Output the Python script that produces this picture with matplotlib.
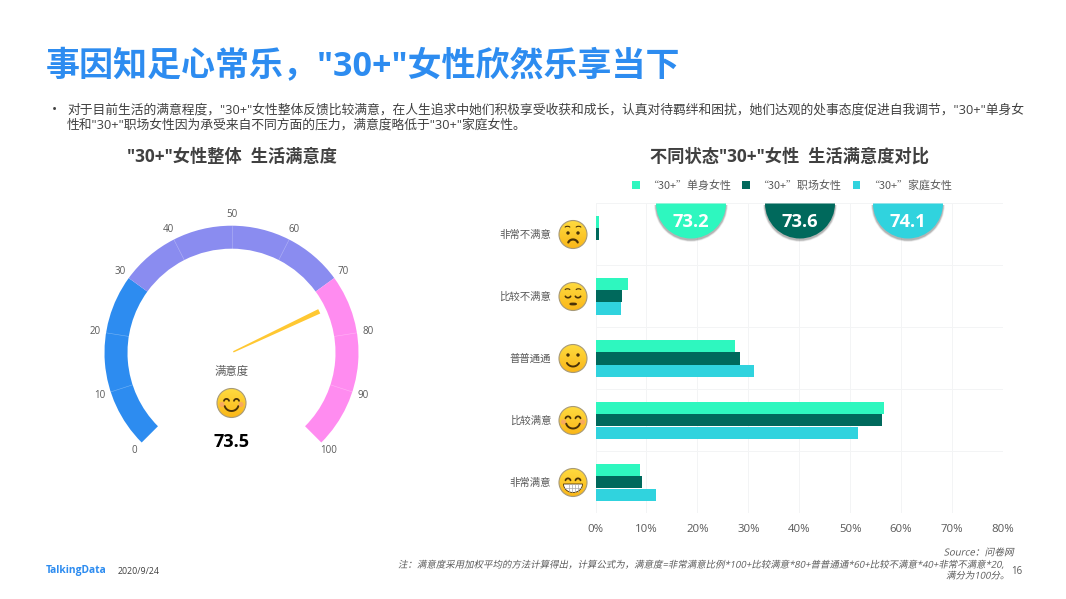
import numpy as np
import matplotlib
matplotlib.use('Agg')
import matplotlib.pyplot as plt
from matplotlib.patches import Wedge, Circle, Polygon
from matplotlib.patheffects import AbstractPathEffect
from matplotlib.transforms import Affine2D

plt.rcParams['font.family'] = ['Open Sans', 'Noto Sans CJK SC', 'DejaVu Sans']

# Gauge data
gauge_ticks = [0, 10, 20, 30, 40, 50, 60, 70, 80, 90, 100]
gauge_stops = [30, 70, 100]
gauge_colors = ['#2D8CF0', '#8A8CF0', '#FF8CF0']
gauge_value = 73.5

# Bar data
levels = ['非常不满意', '比较不满意', '普普通通', '比较满意', '非常满意']
single = [0.7, 6.4, 27.4, 56.6, 8.7]
career = [0.6, 5.3, 28.4, 56.3, 9.1]
family = [0.1, 5.0, 31.1, 51.6, 11.9]
series_names = ['“30+”单身女性', '“30+”职场女性', '“30+”家庭女性']
series_colors = ['#2EF7BF', '#00695C', '#30D3DE']
scores = [73.2, 73.6, 74.1]
xticks = [0, 10, 20, 30, 40, 50, 60, 70, 80]

W, H = 1066, 599
TEXT = '#595959'
CJK = ['Noto Sans CJK SC', 'DejaVu Sans']

fig = plt.figure(figsize=(W / 100, H / 100), dpi=100)


class Slant(AbstractPathEffect):
    # fake italic, the CJK fonts have no oblique face
    def draw_path(self, renderer, gc, tpath, affine, rgbFace=None):
        renderer.draw_path(gc, tpath, Affine2D().skew_deg(12, 0) + affine, rgbFace)


def px_axes(x0, y0, x1, y1):
    return fig.add_axes([x0 / W, 1 - y1 / H, (x1 - x0) / W, (y1 - y0) / H])


# Gauge, in an axes where one data unit is one pixel
gx, gy = 231.5, 352.7
g = px_axes(gx - 160, gy - 160, gx + 160, gy + 160)
g.set_xlim(-160, 160)
g.set_ylim(-160, 160)
g.axis('off')
r_out, r_in = 127, 104


def gauge_angle(v):
    return 225 - 270 * v / 100


start = 0
for stop, c in zip(gauge_stops, gauge_colors):
    g.add_patch(Wedge((0, 0), r_out, gauge_angle(stop), gauge_angle(start),
                      width=r_out - r_in, facecolor=c, edgecolor='none'))
    start = stop
for t in gauge_ticks:
    a = np.radians(gauge_angle(t))
    if 0 < t < 100 and t not in gauge_stops:
        g.plot([r_in * np.cos(a), r_out * np.cos(a)], [r_in * np.sin(a), r_out * np.sin(a)],
               color='white', lw=0.4, alpha=0.35)
    g.text(138 * np.cos(a), 138 * np.sin(a), str(t), ha='center', va='center',
           fontsize=7, color=TEXT)
a = np.radians(gauge_angle(gauge_value) - 1.3)
n = np.array([np.cos(a), np.sin(a)])
p = np.array([-n[1], n[0]])
g.add_patch(Polygon([n * 2 + p * 0.7, n * 2 - p * 0.7, n * 97 - p * 2.4, n * 97 + p * 2.4],
                    facecolor='#FFC832', edgecolor='none'))
g.text(0, -20, '满意度', ha='center', va='center', fontsize=8.2, color=TEXT)
g.text(0, -89, str(gauge_value), ha='center', va='center', fontsize=13, fontweight='bold', color='black')

# Bars
ax = px_axes(595.5, 203.3, 1003, 513.3)
y = np.arange(len(levels))
h = 0.2
b1 = ax.barh(y - h, single, h, color=series_colors[0], label=series_names[0])
b2 = ax.barh(y, career, h, color=series_colors[1], label=series_names[1])
b3 = ax.barh(y + h, family, h, color=series_colors[2], label=series_names[2])
ax.set_xlim(0, 80)
ax.set_ylim(len(levels) - 0.5, -0.5)
ax.set_xticks(xticks)
ax.set_xticklabels([f'{v}%' for v in xticks], fontsize=8.2, color=TEXT)
ax.set_yticks(y)
ax.set_yticklabels(levels, fontsize=7.5, color=TEXT)
ax.set_yticks(np.arange(len(levels) + 1) - 0.5, minor=True)
ax.tick_params(axis='y', which='both', length=0, pad=32)
ax.tick_params(axis='x', length=0, pad=8)
ax.grid(True, axis='x', color='#F3F4F5', lw=0.7)
ax.grid(True, axis='y', which='minor', color='#F3F4F5', lw=0.7)
ax.grid(False, axis='y', which='major')
ax.set_axisbelow(True)
for s in ax.spines.values():
    s.set_visible(False)
leg = ax.legend(handles=[b1, b2, b3], loc='center', bbox_to_anchor=(0.482, 1.057), ncol=3, frameon=False,
                prop={'family': CJK, 'size': 7.9}, handlelength=0.7, handleheight=0.7,
                columnspacing=1.0, handletextpad=0.7, labelcolor=TEXT)

# Pixel overlay for the badges, the faces and the page furniture
ov = fig.add_axes([0, 0, 1, 1], zorder=5)
ov.patch.set_alpha(0)
ov.axis('off')
INK = '#4A3208'


def arc(cx, cy, rx, ry, t0, t1, lw=1.2):
    t = np.radians(np.linspace(t0, t1, 30))
    ov.plot(cx + rx * np.cos(t), cy + ry * np.sin(t), color=INK, lw=lw, solid_capstyle='round', zorder=9)


def face(cx, cy, kind, r=13.5):
    grad = np.linspace(0, 1, 32)[:, None]
    rgb = np.array([1.0, 0.86, 0.25]) * (1 - grad[..., None]) + np.array([0.98, 0.72, 0.10]) * grad[..., None]
    im = ov.imshow(rgb, extent=(cx - r, cx + r, cy + r, cy - r), zorder=6, aspect='auto')
    im.set_clip_path(Circle((cx, cy), r, transform=ov.transData))
    ov.add_patch(Circle((cx, cy), r, facecolor='none', edgecolor='#A89A78', lw=0.8, zorder=7))
    ex = 5.0
    if kind in ('smile', 'grin'):
        # closed happy eyes
        for s in (-1, 1):
            arc(cx + s * ex, cy - 1.5, 2.6, 2.6, 195, 345, lw=1.3)
        if kind == 'smile':
            for s in (-1, 1):
                ov.add_patch(Circle((cx + s * 9.5, cy + 1.5), 2.6, facecolor='#F79A7A', alpha=0.65, edgecolor='none', zorder=8))
            arc(cx, cy + 1.5, 7, 6.5, 15, 165, lw=1.4)
        else:
            t = np.radians(np.linspace(0, 180, 30))
            ov.fill(cx + 9.5 * np.cos(t), cy + 1.5 + 8.5 * np.sin(t), facecolor='white', edgecolor=INK, lw=0.6, zorder=9)
            ov.plot([cx - 9, cx + 9], [cy + 5.5, cy + 5.5], color='#AAAAAA', lw=0.5, zorder=10)
            for dx in (-4.5, -1.5, 1.5, 4.5):
                ov.plot([cx + dx, cx + dx], [cy + 1.5, cy + 9.5], color='#AAAAAA', lw=0.5, zorder=10)
    elif kind == 'neutral':
        for s in (-1, 1):
            ov.add_patch(Circle((cx + s * ex, cy - 3.5), 1.7, facecolor=INK, edgecolor='none', zorder=9))
        arc(cx, cy + 1, 7, 7, 30, 150, lw=1.4)
    elif kind == 'sad':
        for s in (-1, 1):
            arc(cx + s * ex, cy - 1, 2.8, 2.2, 20, 160, lw=1.2)
            arc(cx + s * 5.5, cy - 6.5, 2.5, 1.2, 200, 340, lw=0.8)
        arc(cx, cy + 7.5, 2.5, 0.3, 0, 360, lw=1.6)
    elif kind == 'worried':
        for s in (-1, 1):
            ov.add_patch(Circle((cx + s * ex, cy - 1.5), 1.7, facecolor=INK, edgecolor='none', zorder=9))
            arc(cx + s * 5.5, cy - 7, 2.5, 1.2, 200, 340, lw=0.8)
        arc(cx, cy + 9.5, 5, 4.5, 200, 340, lw=1.6)


# Score badges, flat side on the top of the plot
badge_x = [691, 800, 908]
for bx, s, c in zip(badge_x, scores, series_colors):
    for off, al in ((1.8, 0.08), (1.2, 0.12), (0.6, 0.2)):
        ov.add_patch(Wedge((bx, 205), 35 + off, 0, 180, facecolor='#303030', alpha=al, edgecolor='none', zorder=3))
    ov.add_patch(Wedge((bx, 203.5), 35, 0, 180, facecolor=c, edgecolor='none', zorder=4))
    ov.text(bx, 222, str(s), ha='center', va='center', fontsize=13.2, fontweight='bold', color='white', zorder=5)

face_kinds = ['worried', 'sad', 'neutral', 'smile', 'grin']
for i, k in enumerate(face_kinds):
    face(573, 234.5 + 62 * i, k, r=14)
face(231.5, 403, 'smile', r=14.5)

# Title and notes
ov.text(46, 67, '事因知足心常乐，"30+"女性欣然乐享当下', ha='left', va='center', fontsize=24.5,
        fontweight='bold', color='#2D8CF0')
ov.text(52, 110, '•', ha='left', va='center', fontsize=10, color='#404040')
ov.text(67, 110, '对于目前生活的满意程度，"30+"女性整体反馈比较满意，在人生追求中她们积极享受收获和成长，认真对待羁绊和困扰，她们达观的处事态度促进自我调节，"30+"单身女',
        ha='left', va='center', fontsize=9.23, color='#404040')
ov.text(67, 125, '性和"30+"职场女性因为承受来自不同方面的压力，满意度略低于"30+"家庭女性。',
        ha='left', va='center', fontsize=9.23, color='#404040')
ov.text(232, 157, '"30+"女性整体  生活满意度', ha='center', va='center', fontsize=12.4, fontweight='bold', color='#404040')
ov.text(790, 157, '不同状态"30+"女性  生活满意度对比', ha='center', va='center', fontsize=12.4, fontweight='bold', color='#404040')

ov.text(46, 571, 'TalkingData', ha='left', va='center', fontsize=7.4, fontweight='bold', color='#2D8CF0')
ov.text(118, 571, '2020/9/24', ha='left', va='center', fontsize=6.4, color='#404040')
slant = [Slant()]
ov.text(1014, 553, 'Source：问卷网', ha='right', va='center', fontsize=7, color=TEXT, path_effects=slant)
ov.text(1008, 565, '注：满意度采用加权平均的方法计算得出，计算公式为，满意度=非常满意比例*100+比较满意*80+普普通通*60+比较不满意*40+非常不满意*20,',
        ha='right', va='center', fontsize=6.8, color=TEXT, path_effects=slant)
ov.text(1010, 576, '满分为100分。', ha='right', va='center', fontsize=6.8, color=TEXT, path_effects=slant)
ov.text(1017, 571, '16', ha='center', va='center', fontsize=7, color=TEXT)

ov.set_xlim(0, W)
ov.set_ylim(H, 0)

fig.savefig('out.png', dpi=100)
